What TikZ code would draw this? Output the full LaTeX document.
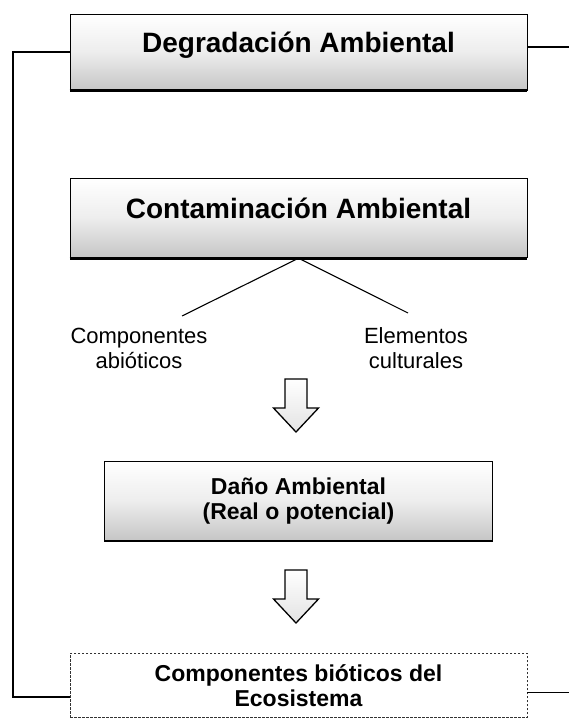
\documentclass[tikz,border=0pt]{standalone}
\usepackage{fontspec}
\setmainfont{Liberation Sans}
\usetikzlibrary{positioning}

\begin{document}
\begin{tikzpicture}[x=1pt, y=-1pt,
    caja/.style={draw, line width=0.8pt, top color=white, bottom color=gray!45, middle color=gray!14, inner sep=0pt},
    titulo/.style={font=\fontsize{28}{32}\selectfont\bfseries, text height=20pt, text depth=20pt},
    sub/.style={font=\fontsize{23}{25}\selectfont\bfseries, align=center},
    etiqueta/.style={font=\fontsize{22}{25}\selectfont, align=center},
    conector/.style={line width=1.1pt},
    flecha/.style={line width=1.3pt, line join=miter, top color=white, bottom color=gray!22}]
  \useasboundingbox (0,0) rectangle (569,720);

  % cajas
  \node[caja, titulo, minimum width=457pt, minimum height=76pt] (degr) at (298.5,52) {Degradación Ambiental};
  \node[caja, titulo, minimum width=457pt, minimum height=79pt, below=88pt of degr] (cont) {Contaminación Ambiental};
  \node[caja, sub, minimum width=388pt, minimum height=79pt, below=203pt of cont] (dano) {Daño Ambiental\\(Real o potencial)};
  \node[sub, draw=black!80, dash pattern=on 2.5pt off 1.5pt, line width=0.6pt, inner sep=0pt,
        minimum width=457pt, minimum height=64pt, below=112pt of dano] (bio) {Componentes bióticos del\\Ecosistema};
  \foreach \c in {degr,cont,dano}
    \draw[line width=2.6pt] (\c.south west) -- (\c.south east);

  % componentes
  \node[etiqueta] (abio) at (139,348.5) {Componentes\\abióticos};
  \node[etiqueta] (cult) at (416,348.5) {Elementos\\culturales};
  \coordinate (abiotop) at (182,316);
  \coordinate (culttop) at (408,313);
  \draw[conector] (cont.south) -- (abiotop);
  \draw[conector] (cont.south) -- (culttop);

  % flechas
  \coordinate (f1) at (296,379);
  \coordinate (f2) at (296,570);
  \foreach \f in {f1,f2}
    \draw[flecha] (\f) ++(-11,0) -- ++(22,0) -- ++(0,29) -- ++(11.5,0) -- ++(-22.5,24)
      -- ++(-22.5,-24) -- ++(11.5,0) -- cycle;

  % retroalimentacion
  \coordinate (lbend) at (13,697);
  \draw[conector] (degr.west) -| (lbend) -- (lbend -| bio.west);
  \draw[conector] ([yshift=5pt]degr.east) -- ++(42,0);
  \draw[conector] ([yshift=-7pt]bio.east) -- ++(42,0);
\end{tikzpicture}
\end{document}
